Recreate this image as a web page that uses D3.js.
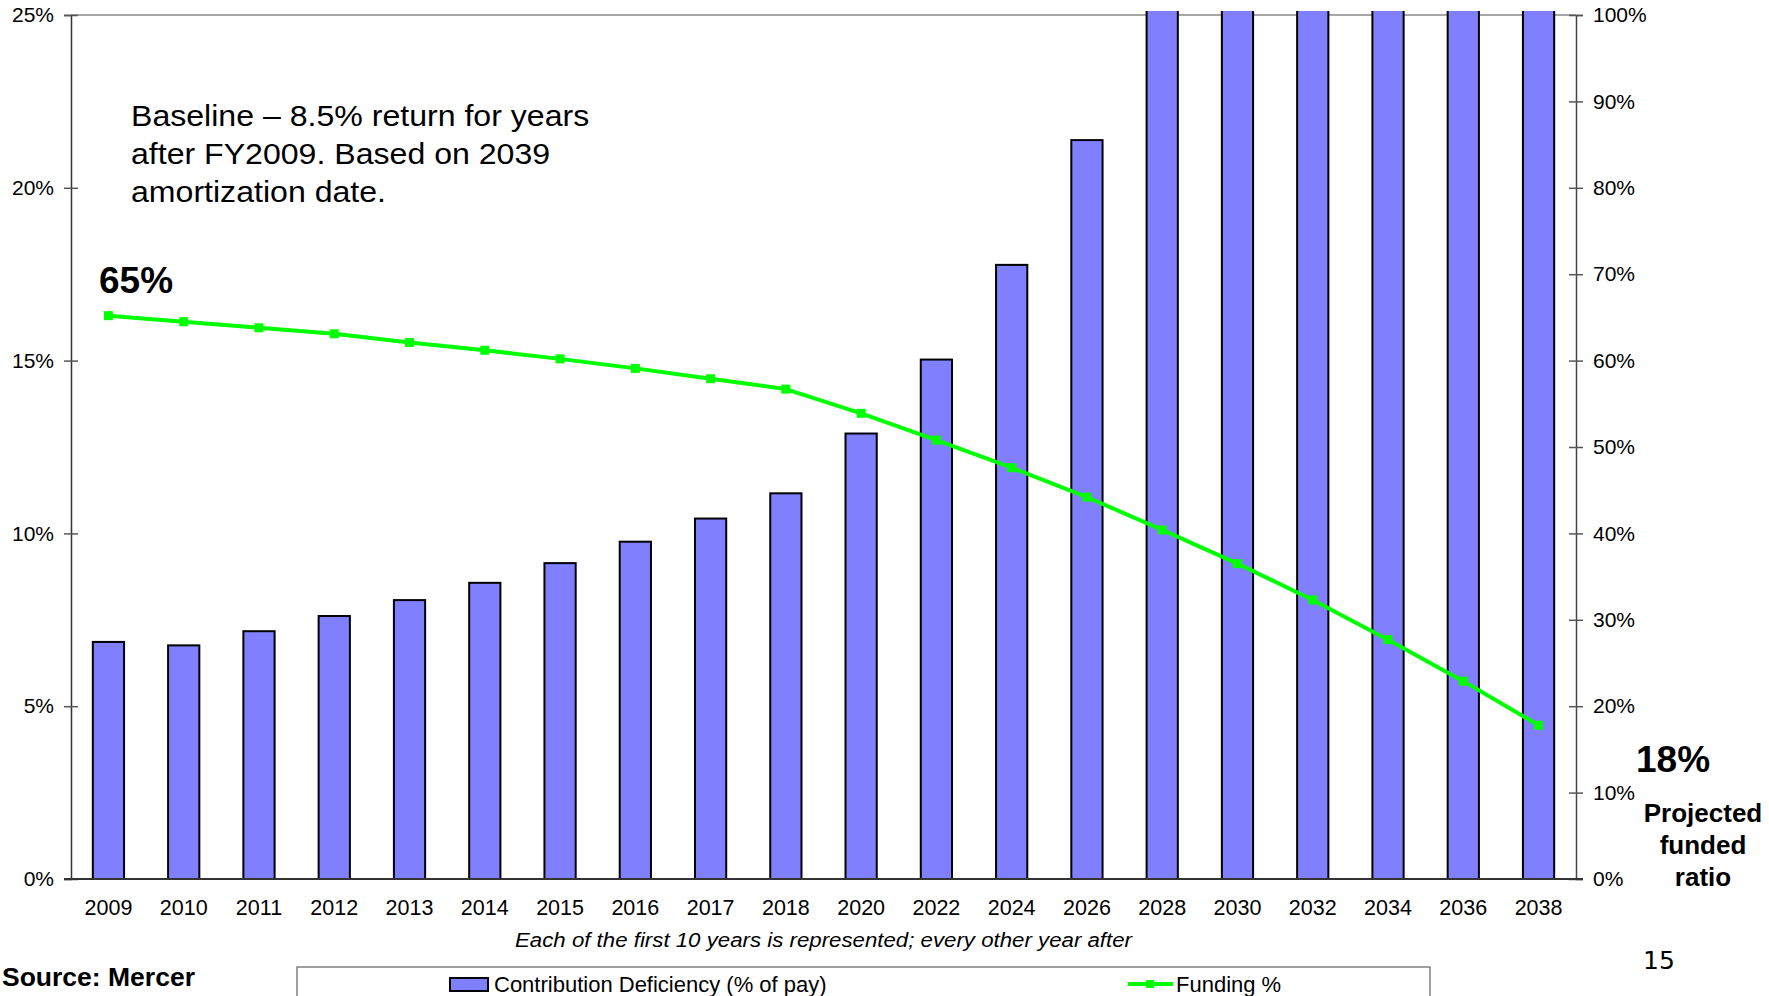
<!DOCTYPE html>
<html>
<head>
<meta charset="utf-8">
<script src="https://cdn.jsdelivr.net/npm/d3@7/dist/d3.min.js"></script>
<style>
  html, body { margin: 0; padding: 0; background: #fff; }
  svg { display: block; font-family: "Liberation Sans", Arial, sans-serif; }
</style>
</head>
<body>
<svg id="chart" width="1769" height="996"></svg>
<script>
// Plan years shown: each of the first ten, then every other year
const years = ["2009","2010","2011","2012","2013","2014","2015","2016","2017","2018",
               "2020","2022","2024","2026","2028","2030","2032","2034","2036","2038"];

// Contribution deficiency, % of pay (left axis); later years run past the 25% axis top
const deficiency = [6.86, 6.76, 7.17, 7.61, 8.07, 8.57, 9.14, 9.76, 10.43, 11.16,
                    12.89, 15.03, 17.77, 21.38, 26.5, 31.0, 36.0, 41.5, 47.5, 54.0];

// Projected funding ratio, % (right axis)
const funding = [65.2, 64.5, 63.8, 63.1, 62.1, 61.2, 60.2, 59.1, 57.9, 56.7,
                 53.9, 50.8, 47.6, 44.2, 40.4, 36.5, 32.3, 27.7, 22.9, 17.8];

const leftTicks = [0, 5, 10, 15, 20, 25];
const rightTicks = [0, 10, 20, 30, 40, 50, 60, 70, 80, 90, 100];

const svg = d3.select("#chart");
const plot = { left: 71, right: 1576, top: 15, bottom: 879 };

const x = d3.scaleBand().domain(years).range([plot.left, plot.right]).paddingInner(0.585).paddingOuter(0.29);
const yL = d3.scaleLinear().domain([0, 25]).range([plot.bottom, plot.top]);
const yR = d3.scaleLinear().domain([0, 100]).range([plot.bottom, plot.top]);

// Regular text is set slightly wide
function wideText(g, px, py, sx) {
  return g.append("text").attr("transform", `translate(${px},${py}) scale(${sx},1)`);
}

// Top frame line
svg.append("line")
  .attr("x1", plot.left).attr("x2", plot.right)
  .attr("y1", plot.top).attr("y2", plot.top)
  .attr("stroke", "#8a8a8a").attr("stroke-width", 1.5);

// Bars, clipped just above the top frame
svg.append("clipPath").attr("id", "barClip")
  .append("rect").attr("x", 0).attr("y", plot.top - 4)
  .attr("width", 1769).attr("height", plot.bottom - plot.top + 4);

svg.append("g").attr("clip-path", "url(#barClip)")
  .selectAll("rect").data(years).join("rect")
  .attr("x", (d) => x(d))
  .attr("width", x.bandwidth())
  .attr("y", (d, i) => yL(deficiency[i]))
  .attr("height", (d, i) => yL(0) - yL(deficiency[i]))
  .attr("fill", "#8080ff")
  .attr("stroke", "#000")
  .attr("stroke-width", 2);

// Left axis
const leftAxis = svg.append("g").attr("transform", `translate(${plot.left},0)`)
  .call(d3.axisLeft(yL).tickValues(leftTicks).tickFormat(d => d + "%").tickSize(7).tickPadding(10));
leftAxis.select(".domain").attr("stroke", "#333").attr("stroke-width", 1.5);
leftAxis.selectAll(".tick line").attr("x2", 7).attr("x1", -7).attr("stroke", "#555").attr("stroke-width", 1.5);
leftAxis.selectAll(".tick text").attr("font-size", 21).attr("fill", "#000")
  .attr("font-family", "Liberation Sans, Arial, sans-serif");

// Right axis
const rightAxis = svg.append("g").attr("transform", `translate(${plot.right},0)`)
  .call(d3.axisRight(yR).tickValues(rightTicks).tickFormat(d => d + "%").tickSize(7).tickPadding(10));
rightAxis.select(".domain").attr("stroke", "#444").attr("stroke-width", 1.5);
rightAxis.selectAll(".tick line").attr("x1", -7).attr("x2", 7).attr("stroke", "#555").attr("stroke-width", 1.5);
rightAxis.selectAll(".tick text").attr("font-size", 21).attr("fill", "#000")
  .attr("font-family", "Liberation Sans, Arial, sans-serif");

// Bottom axis
const bottomAxis = svg.append("g").attr("transform", `translate(0,${plot.bottom})`)
  .call(d3.axisBottom(x).tickSize(0).tickPadding(21));
bottomAxis.select(".domain").attr("stroke", "#333").attr("stroke-width", 2)
  .attr("d", `M${plot.left - 7},0H${plot.right + 7}`);
bottomAxis.selectAll(".tick text").attr("font-size", 21.5).attr("fill", "#000")
  .attr("font-family", "Liberation Sans, Arial, sans-serif");

// Funding ratio line with markers
const cx = (d) => x(d) + x.bandwidth() / 2;
const line = d3.line().x((d, i) => cx(years[i])).y((d) => yR(d));
svg.append("path").datum(funding)
  .attr("d", line)
  .attr("fill", "none")
  .attr("stroke", "#00ff00")
  .attr("stroke-width", 4);
svg.append("g").selectAll("rect").data(funding).join("rect")
  .attr("x", (d, i) => cx(years[i]) - 4.5)
  .attr("y", (d) => yR(d) - 4.5)
  .attr("width", 9).attr("height", 9)
  .attr("fill", "#00ff00");

// Caption under the year labels
wideText(svg, (plot.left + plot.right) / 2, 947, 1.06)
  .attr("text-anchor", "middle")
  .attr("font-size", 21).attr("font-style", "italic")
  .text("Each of the first 10 years is represented; every other year after");

// Scenario note
const note = ["Baseline \u2013 8.5% return for years", "after FY2009. Based on 2039", "amortization date."];
note.forEach((t, i) => {
  wideText(svg, 131, 126 + i * 38, 1.07).attr("font-size", 30).text(t);
});

// Start and end values of the funding ratio
svg.append("text").attr("x", 99).attr("y", 293)
  .attr("font-size", 37).attr("font-weight", "bold")
  .text(Math.round(funding[0]) + "%");
svg.append("text").attr("x", 1636).attr("y", 772)
  .attr("font-size", 37).attr("font-weight", "bold")
  .text(Math.round(funding[funding.length - 1]) + "%");

const sideLabel = ["Projected", "funded", "ratio"];
svg.append("g").selectAll("text").data(sideLabel).join("text")
  .attr("x", 1703).attr("y", (d, i) => 822 + i * 32)
  .attr("text-anchor", "middle")
  .attr("font-size", 26).attr("font-weight", "bold")
  .text(d => d);

// Source and page number
svg.append("text").attr("x", 2).attr("y", 986)
  .attr("font-size", 26.5).attr("font-weight", "bold")
  .text("Source: Mercer");
svg.append("text").attr("x", 1643).attr("y", 969)
  .attr("font-size", 25).attr("font-family", "DejaVu Sans, sans-serif")
  .text("15");

// Legend
const legend = svg.append("g");
legend.append("path")
  .attr("d", "M297,1000V967H1430V1000")
  .attr("fill", "none").attr("stroke", "#808080").attr("stroke-width", 1.5);
legend.append("rect").attr("x", 450).attr("y", 978).attr("width", 38).attr("height", 13)
  .attr("fill", "#8080ff").attr("stroke", "#000").attr("stroke-width", 2);
legend.append("text").attr("x", 494).attr("y", 992).attr("font-size", 22)
  .text("Contribution Deficiency (% of pay)");
legend.append("line").attr("x1", 1128).attr("x2", 1173).attr("y1", 984).attr("y2", 984)
  .attr("stroke", "#00ff00").attr("stroke-width", 4);
legend.append("rect").attr("x", 1146).attr("y", 980).attr("width", 8).attr("height", 8)
  .attr("fill", "#00ff00");
legend.append("text").attr("x", 1176).attr("y", 992).attr("font-size", 22)
  .text("Funding %");
</script>
</body>
</html>
